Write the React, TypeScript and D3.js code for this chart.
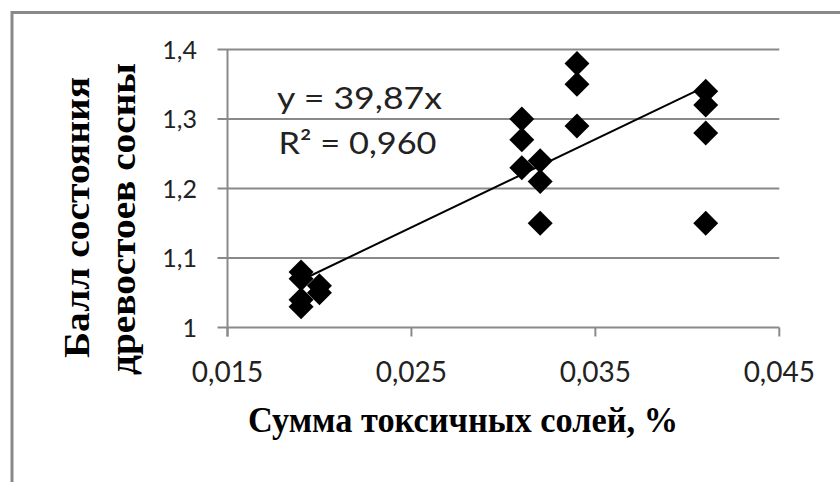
import React from "react";
import * as d3 from "d3";

const xValues = [0.019, 0.019, 0.019, 0.019, 0.02, 0.02, 0.031, 0.031, 0.031, 0.032, 0.032, 0.032, 0.034, 0.034, 0.034, 0.041, 0.041, 0.041, 0.041];
const yValues = [1.08, 1.07, 1.04, 1.03, 1.06, 1.05, 1.3, 1.27, 1.23, 1.24, 1.21, 1.15, 1.38, 1.35, 1.29, 1.34, 1.32, 1.28, 1.15];
const xTicks = [0.015, 0.025, 0.035, 0.045];
const xTickLabels = ["0,015", "0,025", "0,035", "0,045"];
const yTicks = [1, 1.1, 1.2, 1.3, 1.4];
const yTickLabels = ["1", "1,1", "1,2", "1,3", "1,4"];
const trendX = [0.019, 0.041];
const trendY = [1.068, 1.347];
const equationLines = ["y = 39,87x", "R² = 0,960"];
const xTitle = "Сумма токсичных солей, %";
const yTitleLines = ["Балл состояния", "древостоев сосны"];

const W = 840;
const H = 482;
const left = 227.5;
const right = 779.3;
const top = 49.5;
const bottom = 327.5;

export default function App() {
  const x = d3.scaleLinear().domain([0.015, 0.045]).range([left, right]);
  const y = d3.scaleLinear().domain([1, 1.4]).range([bottom, top]);
  const grid = "#898989";
  const textCol = "#222";
  const diamond = d3.symbol().type(d3.symbolSquare).size(312)();
  const line = d3
    .line<number>()
    .x((_, i) => x(trendX[i]))
    .y((d) => y(d));
  const sans = "Lato, 'Open Sans', sans-serif";
  const serif = "'Liberation Serif', 'DejaVu Serif', serif";
  return (
    <svg
      width={W}
      height={H}
      style={{ position: "fixed", left: 0, top: 0, background: "#fff" }}
    >
      <rect x={0} y={0} width={W} height={H} fill="#fff" />
      <rect x={12} y={12.5} width={W + 20} height={H + 20} fill="none" stroke={grid} strokeWidth={3} />
      {yTicks.map((t) => (
        <line key={"g" + t} x1={left - 10} x2={right} y1={y(t)} y2={y(t)} stroke={grid} strokeWidth={2} />
      ))}
      <line x1={left} x2={left} y1={top} y2={bottom + 9} stroke={grid} strokeWidth={2} />
      {xTicks.map((t) => (
        <line key={"xt" + t} x1={x(t)} x2={x(t)} y1={bottom} y2={bottom + 9} stroke={grid} strokeWidth={2} />
      ))}
      {yTicks.map((t, i) => (
        <text key={"yl" + t} x={197} y={y(t) + 9} textAnchor="end" fontFamily={sans} fontSize={25} fill={textCol}>
          {yTickLabels[i]}
        </text>
      ))}
      {xTicks.map((t, i) => (
        <text key={"xl" + t} x={x(t)} y={381.5} textAnchor="middle" fontFamily={sans} fontSize={28} fill={textCol}>
          {xTickLabels[i]}
        </text>
      ))}
      <path d={line(trendY) || ""} fill="none" stroke="#000" strokeWidth={2} />
      {xValues.map((xv, i) => (
        <path
          key={"p" + i}
          d={diamond || ""}
          transform={`translate(${x(xv)},${y(yValues[i])}) rotate(45)`}
          fill="#000"
        />
      ))}
      <text x={277} y={108.5} fontFamily={sans} fontSize={30} fill={textCol} textLength={165} lengthAdjust="spacingAndGlyphs">
        {equationLines[0]}
      </text>
      <text x={278.5} y={154} fontFamily={sans} fontSize={30} fill={textCol} textLength={158} lengthAdjust="spacingAndGlyphs">
        {equationLines[1]}
      </text>
      <text
        x={463}
        y={431.5}
        textAnchor="middle"
        fontFamily={serif}
        fontWeight="bold"
        fontSize={36}
        fill="#000"
        textLength={430}
        lengthAdjust="spacingAndGlyphs"
      >
        {xTitle}
      </text>
      <text
        transform={`translate(89,217.5) rotate(-90)`}
        textAnchor="middle"
        fontFamily={serif}
        fontWeight="bold"
        fontSize={36}
        fill="#000"
        textLength={281}
        lengthAdjust="spacingAndGlyphs"
      >
        {yTitleLines[0]}
      </text>
      <text
        transform={`translate(135,219) rotate(-90)`}
        textAnchor="middle"
        fontFamily={serif}
        fontWeight="bold"
        fontSize={36}
        fill="#000"
        textLength={312}
        lengthAdjust="spacingAndGlyphs"
      >
        {yTitleLines[1]}
      </text>
    </svg>
  );
}
